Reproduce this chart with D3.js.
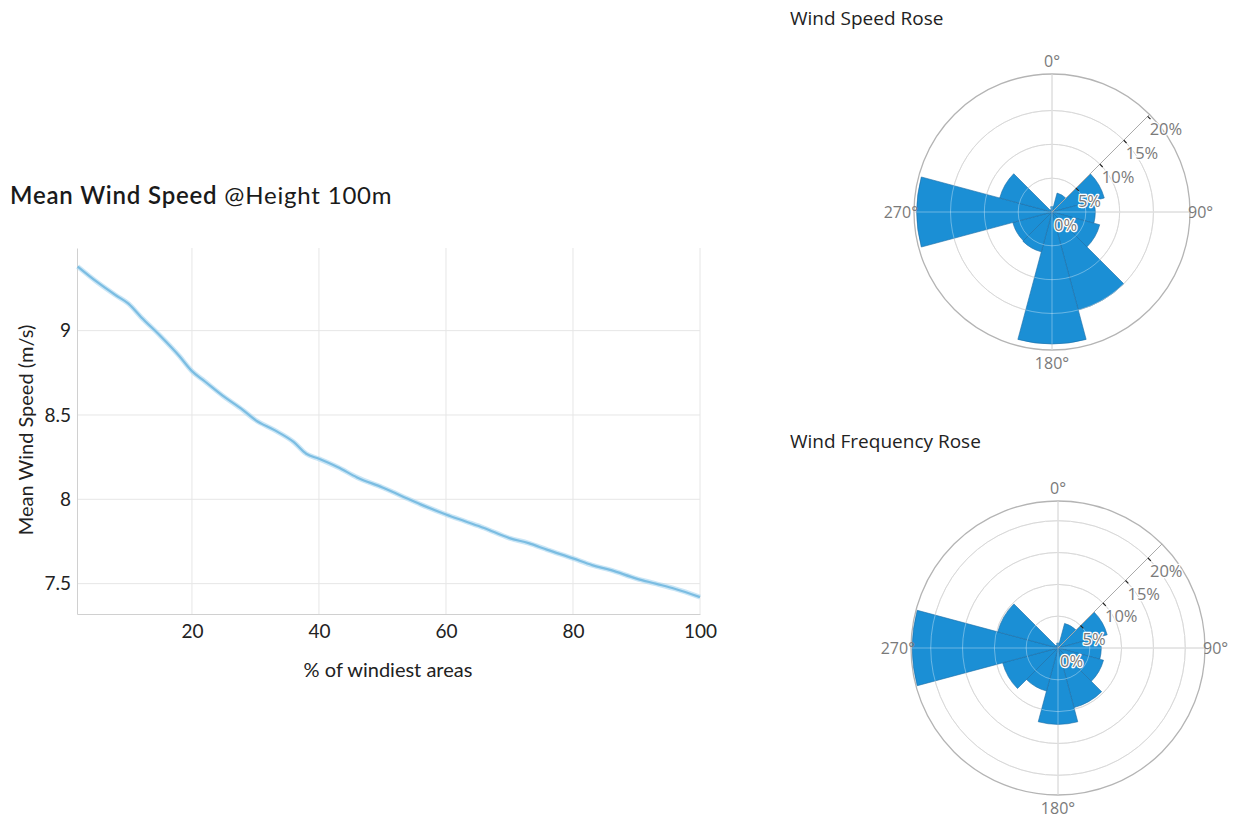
<!DOCTYPE html>
<html>
<head>
<meta charset="utf-8">
<script src="https://cdn.jsdelivr.net/npm/d3@7"></script>
<style>
  html, body { margin: 0; padding: 0; background: #fff; }
  svg { display: block; }
</style>
</head>
<body>
<svg id="chart" width="1239" height="818"></svg>
<script>
// ---------- data ----------
const pctWindiest = [2, 5, 8, 10, 12, 15, 18, 20, 22, 25, 28, 30, 33, 36, 38, 40, 43, 46, 50, 53, 56, 60, 63, 66, 70, 73, 76, 80, 83, 86, 90, 93, 96, 100];
const meanSpeed   = [9.38, 9.29, 9.21, 9.16, 9.08, 8.97, 8.85, 8.76, 8.70, 8.61, 8.53, 8.47, 8.41, 8.34, 8.27, 8.24, 8.19, 8.13, 8.07, 8.02, 7.97, 7.91, 7.87, 7.83, 7.77, 7.74, 7.70, 7.65, 7.61, 7.58, 7.53, 7.50, 7.47, 7.42];
const xTicks = [20, 40, 60, 80, 100];
const yTicks = [7.5, 8, 8.5, 9];

const directions = [0, 30, 60, 90, 120, 150, 180, 210, 240, 270, 300, 330];
const speedRose  = [0.8, 2.9, 8.0, 6.4, 7.3, 15.0, 19.5, 6.1, 6.0, 20.0, 8.0, 0.4];
const freqRose   = [0.8, 4.0, 8.0, 6.8, 7.4, 9.7, 12.0, 7.0, 9.0, 22.9, 9.8, 0.5];
const radialTicks = [0, 5, 10, 15, 20];
const angleLabels = [0, 90, 180, 270];

// ---------- setup ----------
const svg = d3.select('#chart');
const sans = "'Open Sans', 'Noto Sans', sans-serif";
const axisFont = "Lato, 'Open Sans', sans-serif";

// ---------- line chart ----------
const L = { left: 77, right: 700, top: 248, bottom: 614 };
const x = d3.scaleLinear().domain([1.9, 100]).range([L.left, L.right]);
const y = d3.scaleLinear().domain([7.32, 9.49]).range([L.bottom, L.top]);

const title = svg.append('text').attr('x', 10).attr('y', 204)
  .style('font-family', "Lato, 'Noto Sans', sans-serif").style('font-size', '24px')
  .style('letter-spacing', '0.8px').attr('fill', '#1a1a1a');
title.append('tspan').text('Mean Wind Speed').style('font-weight', 600);
title.append('tspan').text(' @Height 100m').style('font-weight', 400);

const grid = svg.append('g');
grid.selectAll('line.vx').data(xTicks).enter().append('line')
  .attr('x1', d => x(d)).attr('x2', d => x(d)).attr('y1', L.top).attr('y2', L.bottom)
  .attr('stroke', '#e6e6e6').attr('stroke-width', 1);
grid.selectAll('line.hy').data(yTicks).enter().append('line')
  .attr('x1', L.left).attr('x2', L.right).attr('y1', d => y(d)).attr('y2', d => y(d))
  .attr('stroke', '#e6e6e6').attr('stroke-width', 1);

const xAxis = svg.append('g').attr('transform', `translate(0,${L.bottom})`)
  .call(d3.axisBottom(x).tickValues(xTicks).tickSize(0).tickPadding(11));
xAxis.select('.domain').attr('stroke', '#d0d0d0');
xAxis.selectAll('text').style('font-family', axisFont).style('font-size', '19px').attr('fill', '#222');

const yAxis = svg.append('g').attr('transform', `translate(${L.left},0)`)
  .call(d3.axisLeft(y).tickValues(yTicks).tickFormat(d3.format('~g')).tickSize(0).tickPadding(6));
yAxis.select('.domain').attr('stroke', '#d0d0d0');
yAxis.selectAll('text').style('font-family', axisFont).style('font-size', '19px').attr('fill', '#222');

svg.append('text').attr('x', 388).attr('y', 677).attr('text-anchor', 'middle')
  .style('font-family', axisFont).style('font-size', '20px').attr('fill', '#222')
  .text('% of windiest areas');
svg.append('text').attr('transform', 'translate(33,430) rotate(-90)').attr('text-anchor', 'middle')
  .style('font-family', axisFont).style('font-size', '20px').attr('fill', '#222')
  .text('Mean Wind Speed (m/s)');

const line = d3.line().x((d, i) => x(pctWindiest[i])).y(d => y(d)).curve(d3.curveMonotoneX);
svg.append('path').datum(meanSpeed).attr('d', line)
  .attr('fill', 'none').attr('stroke', '#a9d6f0').attr('stroke-width', 5).attr('stroke-opacity', 0.6);
svg.append('path').datum(meanSpeed).attr('d', line)
  .attr('fill', 'none').attr('stroke', '#7bbde2').attr('stroke-width', 2.2);

// ---------- roses ----------
function rose(cx, cy, R, rMax, values, titleText, titleY) {
  svg.append('text').attr('x', 790).attr('y', titleY)
    .style('font-family', sans).style('font-size', '19px').attr('fill', '#222').text(titleText);

  const g = svg.append('g').attr('transform', `translate(${cx},${cy})`);
  const r = d3.scaleLinear().domain([0, rMax]).range([0, R]);
  const rad = a => (a - 90) * Math.PI / 180;
  const rings = radialTicks.filter(t => t > 0 && r(t) < R - 5);

  // gray grid under bars
  g.selectAll('circle.g').data(rings).enter().append('circle')
    .attr('r', d => r(d)).attr('fill', 'none').attr('stroke', '#c4c4c4').attr('stroke-width', 1);
  g.append('circle').attr('r', R).attr('fill', 'none').attr('stroke', '#b4b4b4').attr('stroke-width', 1.3);
  angleLabels.forEach(a => {
    g.append('line').attr('x1', 0).attr('y1', 0)
      .attr('x2', R * Math.cos(rad(a))).attr('y2', R * Math.sin(rad(a)))
      .attr('stroke', '#c4c4c4').attr('stroke-width', 1);
  });

  // bars
  const arc = d3.arc().innerRadius(0);
  g.selectAll('path.bar').data(values).enter().append('path')
    .attr('d', (d, i) => arc({ outerRadius: r(d),
      startAngle: (directions[i] - 15) * Math.PI / 180,
      endAngle: (directions[i] + 15) * Math.PI / 180 }))
    .attr('fill', '#1b8fd5').attr('stroke', '#1b6da6').attr('stroke-width', 0.6);

  // light grid over bars
  g.selectAll('circle.o').data(rings).enter().append('circle')
    .attr('r', d => r(d)).attr('fill', 'none').attr('stroke', '#ffffff').attr('stroke-opacity', 0.35).attr('stroke-width', 1);
  angleLabels.forEach(a => {
    g.append('line').attr('x1', 0).attr('y1', 0)
      .attr('x2', R * Math.cos(rad(a))).attr('y2', R * Math.sin(rad(a)))
      .attr('stroke', '#ffffff').attr('stroke-opacity', 0.35).attr('stroke-width', 1);
  });

  // radial axis at 45 degrees
  const ax = rad(45);
  g.append('line').attr('x1', 0).attr('y1', 0)
    .attr('x2', R * Math.cos(ax)).attr('y2', R * Math.sin(ax))
    .attr('stroke', '#aaaaaa').attr('stroke-width', 1);
  radialTicks.forEach(t => {
    const px = r(t) * Math.cos(ax), py = r(t) * Math.sin(ax);
    if (t > 0) {
      g.append('line').attr('x1', px).attr('y1', py)
        .attr('x2', px + 4 * Math.cos(rad(135))).attr('y2', py + 4 * Math.sin(rad(135)))
        .attr('stroke', '#222').attr('stroke-width', 1.2);
    }
    g.append('text').attr('x', px + 2).attr('y', py + 19)
      .style('font-family', sans).style('font-size', '16.5px')
      .attr('fill', '#7a7a7a').attr('stroke', '#fff').attr('stroke-width', 2.5)
      .style('paint-order', 'stroke').attr('stroke-linejoin', 'round')
      .text(t + '%');
  });

  // angular labels
  angleLabels.forEach(a => {
    let px = 0, py = 0, anchor = 'middle';
    if (a === 0) { py = -R - 13; }
    if (a === 180) { py = R + 13; }
    if (a === 90) { px = R - 2; anchor = 'start'; }
    if (a === 270) { px = -R + 4; anchor = 'end'; }
    g.append('text').attr('x', px).attr('y', py)
      .attr('dy', '0.35em').attr('text-anchor', anchor)
      .style('font-family', sans).style('font-size', '16px').attr('fill', '#7a7a7a')
      .text(a + '°');
  });
}

rose(1052, 212, 138, 20.4, speedRose, 'Wind Speed Rose', 25);
rose(1058, 648, 147, 23.1, freqRose, 'Wind Frequency Rose', 448);
</script>
</body>
</html>
